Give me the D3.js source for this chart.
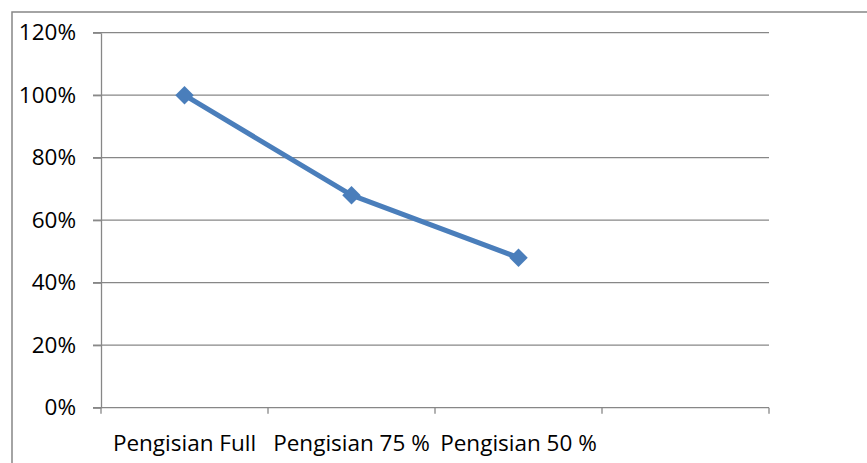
<!DOCTYPE html>
<html lang="en">
<head>
    <meta charset="UTF-8">
    <title>Pengisian</title>
    <script src="https://d3js.org/d3.v7.min.js" charset="utf-8"></script>
    <style>
        body { margin: 0; background: #fff; }
        svg { display: block; }
        text { font-family: 'Open Sans', sans-serif; fill: #000; }
    </style>
</head>
<body>
    <div id="chart"></div>
    <script>
        // data
        var categories = ['Pengisian Full', 'Pengisian 75 %', 'Pengisian 50 %', ''];
        var values = [1.00, 0.68, 0.48];
        var yTicks = [0, 0.2, 0.4, 0.6, 0.8, 1.0, 1.2];

        var width = 867, height = 463;
        // plot area edges (note: "top" is a read-only global, so use other names)
        var plotLeft = 101, plotRight = 769, plotTop = 32.7, plotBottom = 407.7;
        var gridColor = '#878787';
        var lineColor = '#4a7ebb';

        var svg = d3.select('#chart').append('svg')
            .attr('width', width)
            .attr('height', height);

        // outer chart frame (only top and left visible)
        svg.append('rect')
            .attr('x', 12).attr('y', 12)
            .attr('width', 1000).attr('height', 1000)
            .attr('fill', 'none')
            .attr('stroke', gridColor)
            .attr('stroke-width', 1.5);

        var x = d3.scaleBand()
            .domain(categories)
            .range([plotLeft, plotRight])
            .padding(0);

        var y = d3.scaleLinear()
            .domain([0, 1.2])
            .range([plotBottom, plotTop]);

        // horizontal gridlines
        svg.append('g')
            .selectAll('line')
            .data(yTicks)
            .join('line')
            .attr('x1', plotLeft - 8)
            .attr('x2', plotRight)
            .attr('y1', d => y(d))
            .attr('y2', d => y(d))
            .attr('stroke', gridColor)
            .attr('stroke-width', 1.3);

        // y axis
        var yAxis = svg.append('g')
            .attr('transform', 'translate(' + plotLeft + ',0)')
            .call(d3.axisLeft(y)
                .tickValues(yTicks)
                .tickFormat(d3.format('.0%'))
                .tickSize(8)
                .tickSizeOuter(0)
                .tickPadding(17));
        yAxis.select('.domain').attr('stroke', gridColor).attr('stroke-width', 1.3);
        yAxis.selectAll('.tick line').attr('stroke', gridColor).attr('stroke-width', 1.3);
        yAxis.selectAll('text')
            .attr('font-family', 'Open Sans')
            .attr('font-size', '22.5px')
            .attr('fill', '#000');

        // category boundary ticks
        var bounds = categories.map(c => x(c)).concat([x.range()[1]]);
        svg.append('g')
            .selectAll('line')
            .data(bounds)
            .join('line')
            .attr('x1', d => d).attr('x2', d => d)
            .attr('y1', plotBottom).attr('y2', plotBottom + 6)
            .attr('stroke', gridColor)
            .attr('stroke-width', 1.3);

        // category labels
        svg.append('g')
            .selectAll('text')
            .data(categories)
            .join('text')
            .attr('x', d => x(d) + x.bandwidth() / 2)
            .attr('y', 451)
            .attr('text-anchor', 'middle')
            .style('font-size', '22.5px')
            .text(d => d);

        var points = values.map((v, i) => ({ c: categories[i], v: v }));

        var line = d3.line()
            .x(d => x(d.c) + x.bandwidth() / 2)
            .y(d => y(d.v));

        svg.append('path')
            .datum(points)
            .attr('d', line)
            .attr('fill', 'none')
            .attr('stroke', lineColor)
            .attr('stroke-width', 5)
            .attr('stroke-linejoin', 'round');

        // diamond markers
        svg.append('g')
            .selectAll('path')
            .data(points)
            .join('path')
            .attr('d', d3.symbol().type(d3.symbolSquare).size(170))
            .attr('transform', d => 'translate(' + (x(d.c) + x.bandwidth() / 2) + ',' + y(d.v) + ') rotate(45)')
            .attr('fill', lineColor);
    </script>
</body>
</html>
